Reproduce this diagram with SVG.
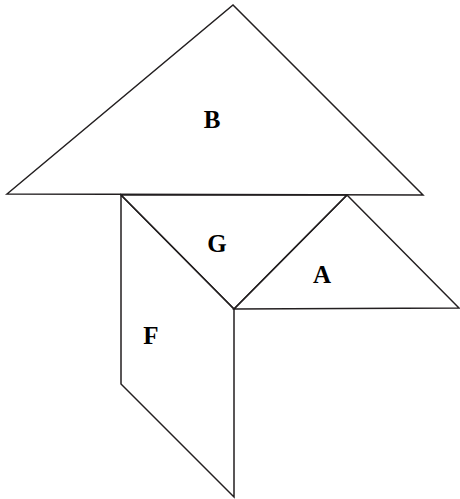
<svg xmlns="http://www.w3.org/2000/svg" width="460" height="499" viewBox="0 0 460 499">
<style>
.p{fill:none;stroke:#231f20;stroke-width:1.5;stroke-linejoin:miter}
.t{font-family:"Liberation Serif",serif;font-weight:bold;font-size:25px;fill:#000;text-anchor:middle}
</style>
<rect width="460" height="499" fill="#fff"/>
<g id="B"><polygon class="p" points="7,194 233,5 423,195"/><text class="t" x="212" y="128">B</text></g>
<g id="G"><polygon class="p" points="121,195 347,195 234,309"/><text class="t" x="217" y="252">G</text></g>
<g id="A"><polygon class="p" points="347,195 459,308 234,309"/><text class="t" x="322" y="283">A</text></g>
<g id="F"><polygon class="p" points="121,195 234,309 234,497 121,384"/><text class="t" x="151" y="344">F</text></g>
</svg>
